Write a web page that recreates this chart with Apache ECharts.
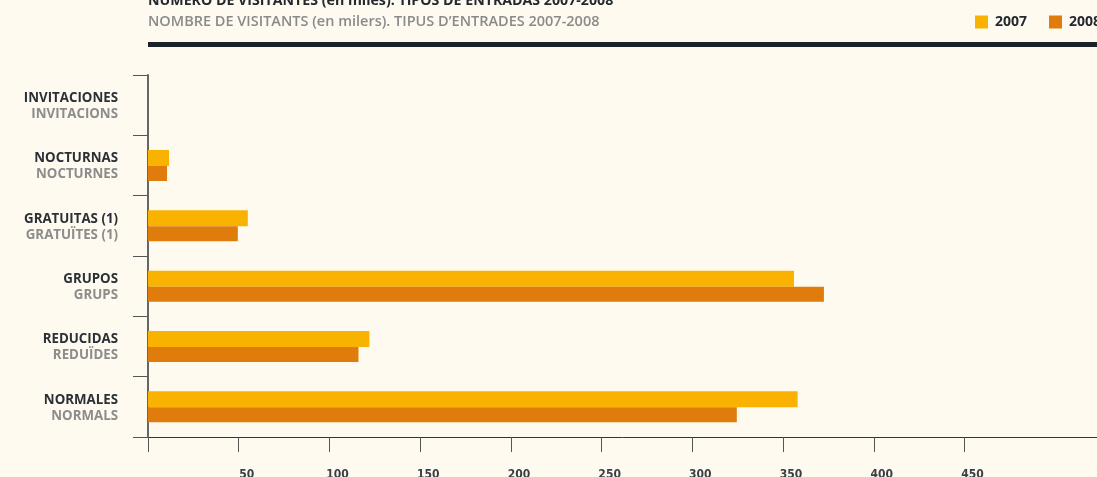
<!DOCTYPE html>
<html>
<head>
<meta charset="utf-8">
<script src="https://cdn.jsdelivr.net/npm/echarts@6/dist/echarts.min.js"></script>
<style>
  html, body { margin: 0; padding: 0; background: #fffaf0; }
  #chart { width: 1097px; height: 477px; }
</style>
</head>
<body>
<div id="chart"></div>
<script>
// categorías (castellano / català)
const categoriesEs = ["INVITACIONES", "NOCTURNAS", "GRATUITAS (1)", "GRUPOS", "REDUCIDAS", "NORMALES"];
const categoriesCa = ["INVITACIONS", "NOCTURNES", "GRATUÏTES (1)", "GRUPS", "REDUÏDES", "NORMALS"];
// visitantes en miles
const values2007 = [0, 11.6, 55, 356, 122, 358];
const values2008 = [0, 10.5, 49.5, 372.5, 116, 324.5];
const tickValues = [0, 50, 100, 150, 200, 250, 300, 350, 400, 450];

const chart = echarts.init(document.getElementById("chart"));
const option = {
  backgroundColor: "#fffaf0",
  animation: false,
  textStyle: { fontFamily: "Open Sans" },
  title: [
    {
      text: "NÚMERO DE VISITANTES (en miles). TIPOS DE ENTRADAS 2007-2008",
      left: 148,
      top: -6,
      padding: 0,
      textStyle: { fontSize: 14.2, fontWeight: "bold", color: "#222a30", fontFamily: "Open Sans" },
    },
    {
      text: "NOMBRE DE VISITANTS (en milers). TIPUS D’ENTRADES 2007-2008",
      left: 148,
      top: 14,
      padding: 0,
      textStyle: { fontSize: 14.5, fontWeight: 600, color: "#8a8a8a", fontFamily: "Open Sans" },
    },
  ],
  legend: {
    left: 975,
    top: 15,
    width: 300,
    orient: "horizontal",
    padding: 0,
    itemWidth: 13,
    itemHeight: 13,
    itemGap: 22,
    icon: "rect",
    data: ["2007", "2008"],
    textStyle: { fontSize: 14, fontWeight: "bold", color: "#222a30", padding: [0, 0, 0, 2] },
  },
  graphic: [
    {
      type: "rect",
      shape: { x: 148, y: 42, width: 949, height: 5 },
      style: { fill: "#1b2329" },
    },
  ],
  grid: { left: 148, right: 0, top: 75, bottom: 40, containLabel: false, outerBoundsMode: "none" },
  xAxis: {
    type: "value",
    min: 0,
    max: 523,
    splitLine: { show: false },
    axisLine: { show: true, lineStyle: { color: "#333", width: 1 } },
    axisTick: { show: true, length: 15, customValues: tickValues, lineStyle: { color: "#555" } },
    axisLabel: {
      customValues: tickValues.slice(1),
      margin: 32,
      padding: [0, 0, 0, 16],
      fontSize: 12,
      fontWeight: "bold",
      color: "#3a3f44",
      fontFamily: "DejaVu Sans Condensed",
    },
  },
  yAxis: {
    type: "category",
    inverse: true,
    data: categoriesEs,
    axisLine: { show: true, lineStyle: { color: "#666", width: 2 } },
    axisTick: { show: true, length: 15, lineStyle: { color: "#555" } },
    axisLabel: {
      margin: 30,
      align: "right",
      padding: [2, 0, 0, 0],
      formatter: function (value, idx) {
        return "{a|" + value + "}\n{b|" + categoriesCa[idx] + "}";
      },
      rich: {
        a: { fontSize: 13.3, fontWeight: "bold", color: "#2a3036", lineHeight: 16, align: "right", fontFamily: "Open Sans" },
        b: { fontSize: 13.3, fontWeight: "bold", color: "#8c8c8c", lineHeight: 16, align: "right", fontFamily: "Open Sans" },
      },
    },
  },
  series: [
    {
      name: "2007",
      type: "bar",
      data: values2007,
      barWidth: 16,
      barGap: "0%",
      itemStyle: { color: "#f9b200" },
    },
    {
      name: "2008",
      type: "bar",
      data: values2008,
      barWidth: 15,
      itemStyle: { color: "#df7c0b" },
    },
  ],
};
chart.setOption(option);
</script>
</body>
</html>
